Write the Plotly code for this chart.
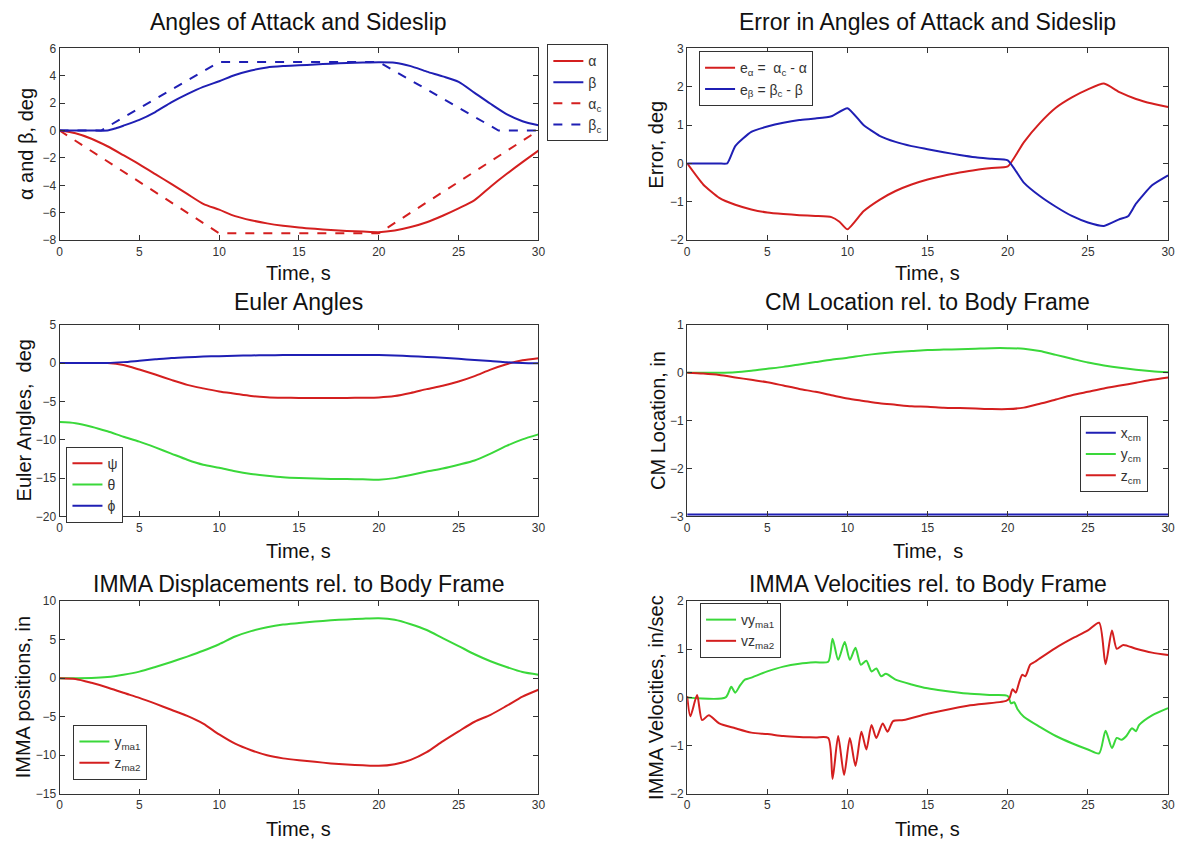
import plotly.graph_objects as go

# ---------------- data ----------------
t_int = list(range(0, 31))

# Panel 1: Angles of attack and sideslip
alpha_t = t_int
alpha = [0, -0.2, -0.6, -1.15, -1.8, -2.47, -3.18, -3.9, -4.63, -5.35, -5.78, -6.25, -6.55,
         -6.78, -6.95, -7.08, -7.18, -7.26, -7.33, -7.38, -7.42, -7.3, -7.05, -6.7, -6.22,
         -5.68, -5.08, -4.1, -3.18, -2.31, -1.47]
beta_t = [0, 1, 2, 3, 3.5, 4, 5, 6, 7, 8, 9, 10, 11, 12, 13, 14, 15, 16, 17, 18, 19, 20, 21,
          22, 23, 24, 25, 26, 27, 28, 29, 30]
beta = [0, 0, 0, 0, 0.15, 0.35, 0.78, 1.35, 2.05, 2.65, 3.18, 3.6, 4.05, 4.38, 4.6, 4.7, 4.76,
        4.82, 4.88, 4.93, 4.96, 4.98, 4.95, 4.7, 4.3, 3.95, 3.55, 2.75, 1.95, 1.2, 0.68, 0.38]
alpha_c_t = [0, 10, 20, 30]
alpha_c = [0, -7.5, -7.5, 0]
beta_c_t = [0, 2.6, 10, 20, 27.5, 30]
beta_c = [0, 0, 5, 5, 0, 0]

# Panel 2: errors
ea_t = [0, 1, 2, 3, 4, 5, 6, 7, 8, 9, 9.5, 10, 11, 12, 13, 14, 15, 16, 17, 18, 19, 20, 21, 22,
        23, 24, 25, 26, 27, 28, 29, 30]
e_alpha = [0, -0.55, -0.9, -1.08, -1.2, -1.28, -1.32, -1.35, -1.37, -1.4, -1.52, -1.72, -1.25,
           -0.95, -0.72, -0.55, -0.42, -0.32, -0.24, -0.17, -0.12, -0.08, 0.55, 1.05, 1.45,
           1.72, 1.93, 2.08, 1.85, 1.68, 1.56, 1.47]
eb_t = [0, 1, 2, 2.5, 3, 4, 5, 6, 7, 8, 9, 10, 11, 12, 13, 14, 15, 16, 17, 18, 19, 20, 21, 22,
        23, 24, 25, 26, 27, 27.5, 28, 29, 30]
e_beta = [0, 0, 0, 0, 0.45, 0.82, 0.96, 1.06, 1.13, 1.17, 1.23, 1.44, 1.0, 0.72, 0.56, 0.45,
          0.37, 0.29, 0.22, 0.16, 0.12, 0.08, -0.5, -0.85, -1.13, -1.37, -1.54, -1.63, -1.45,
          -1.38, -1.05, -0.57, -0.31]

# Panel 3: Euler angles
psi = [0, 0, 0, 0, -0.25, -0.85, -1.5, -2.2, -2.85, -3.3, -3.7, -4.0, -4.3, -4.45, -4.52,
       -4.55, -4.57, -4.56, -4.54, -4.52, -4.48, -4.3, -3.9, -3.4, -2.95, -2.4, -1.7, -0.85,
       -0.15, 0.35, 0.62]
theta = [-7.7, -7.85, -8.3, -8.9, -9.6, -10.25, -11.0, -11.8, -12.6, -13.25, -13.65, -14.1,
         -14.45, -14.7, -14.9, -15.0, -15.05, -15.1, -15.12, -15.15, -15.2, -15.0, -14.6,
         -14.15, -13.75, -13.25, -12.7, -11.8, -10.8, -9.95, -9.3]
phi = [0, 0, 0, 0, 0.12, 0.3, 0.48, 0.65, 0.76, 0.84, 0.9, 0.95, 0.99, 1.02, 1.04, 1.05, 1.06,
       1.06, 1.06, 1.05, 1.04, 0.98, 0.9, 0.8, 0.68, 0.55, 0.4, 0.26, 0.1, 0.0, -0.04]

# Panel 4: CM location
x_cm_t = [0, 30]
x_cm = [-2.96, -2.96]
y_cm = [0, 0, 0, 0.01, 0.04, 0.08, 0.12, 0.17, 0.22, 0.27, 0.31, 0.36, 0.4, 0.43, 0.45, 0.47,
        0.48, 0.49, 0.5, 0.51, 0.51, 0.5, 0.45, 0.37, 0.29, 0.21, 0.15, 0.1, 0.06, 0.03, 0.01]
z_cm = [0, -0.02, -0.05, -0.1, -0.15, -0.2, -0.27, -0.34, -0.4, -0.47, -0.54, -0.59, -0.64,
        -0.67, -0.7, -0.71, -0.73, -0.74, -0.75, -0.76, -0.76, -0.73, -0.65, -0.56, -0.47,
        -0.4, -0.33, -0.27, -0.21, -0.15, -0.1]

# Panel 5: IMMA displacements
y_ma1 = [0, 0, 0.02, 0.15, 0.45, 0.85, 1.45, 2.1, 2.8, 3.55, 4.4, 5.4, 6.1, 6.6, 6.95, 7.15,
         7.35, 7.5, 7.62, 7.72, 7.78, 7.58, 7.0, 6.25, 5.2, 4.17, 3.1, 2.2, 1.45, 0.8, 0.45]
z_ma2 = [0, -0.1, -0.6, -1.2, -1.9, -2.56, -3.3, -4.1, -4.9, -5.9, -7.3, -8.5, -9.35, -10.0,
         -10.4, -10.65, -10.85, -11.05, -11.2, -11.3, -11.37, -11.15, -10.6, -9.6, -8.2, -6.9,
         -5.65, -4.75, -3.6, -2.4, -1.5]

# Panel 6: IMMA velocities
vy_t = [0, 2.4, 2.75, 3.0, 3.3, 3.6, 3.9, 5, 6, 7, 8, 8.8, 9.07, 9.42, 9.83, 10.15, 10.5,
        10.83, 11.18, 11.5, 11.8, 12.1, 12.4, 13, 14, 15, 16, 17.5, 19, 20, 20.2, 20.4, 20.6,
        21, 22, 23, 24, 25, 25.7, 26.1, 26.5, 26.8, 27.1, 27.4, 27.75, 28.0, 28.2, 29, 30]
vy_ma1 = [0, 0, 0.22, 0.1, 0.25, 0.37, 0.4, 0.54, 0.64, 0.7, 0.73, 0.74, 1.22, 0.78, 1.15,
          0.78, 1.03, 0.68, 0.76, 0.54, 0.6, 0.44, 0.49, 0.37, 0.27, 0.19, 0.14, 0.08, 0.05,
          0.03, -0.12, -0.1, -0.24, -0.4, -0.61, -0.8, -0.95, -1.08, -1.16, -0.69, -1.05,
          -0.84, -0.88, -0.8, -0.64, -0.7, -0.57, -0.37, -0.22]
vz_t = [0, 0.2, 0.62, 0.93, 1.35, 2, 3, 4, 5, 6, 7, 8, 8.8, 9.07, 9.42, 9.79, 10.15, 10.5,
        10.87, 11.18, 11.5, 11.8, 12.2, 12.5, 12.85, 13.5, 15, 17.5, 19.9, 20.1, 20.3, 20.5,
        20.7, 20.9, 21.1, 21.4, 21.7, 22, 23, 24, 25, 25.7, 26.1, 26.5, 26.8, 27.2, 28, 29, 30]
vz_ma2 = [0.03, -0.39, 0.05, -0.47, -0.37, -0.54, -0.64, -0.73, -0.76, -0.8, -0.82, -0.83,
          -0.84, -1.69, -0.8, -1.61, -0.84, -1.42, -0.71, -1.08, -0.57, -0.84, -0.54, -0.71,
          -0.49, -0.47, -0.34, -0.17, -0.07, -0.02, 0.17, 0.1, 0.3, 0.47, 0.44, 0.68, 0.74,
          0.81, 1.03, 1.22, 1.39, 1.55, 0.69, 1.39, 1.01, 1.09, 1.01, 0.93, 0.88]

# ---------------- style ----------------
RED = "#d41f1f"
BLUE = "#1f1fb4"
GREEN = "#3ad83a"
FONT = "Liberation Sans, Arial, sans-serif"
W, H = 1182, 851
LW = 2

# pixel layout of the six panels (left, right, top, bottom)
cols = [(57, 540), (690, 1175)]
rows = [(42, 237), (323, 518), (604, 800)]

fig = go.Figure()


def add(x, y, name, color, ax, legend, dash="solid", shape="linear", smooth=0.7):
    fig.add_trace(go.Scatter(
        x=x, y=y, name=name, mode="lines",
        line=dict(color=color, width=LW, dash=dash, shape=shape, smoothing=smooth),
        xaxis="x" + ("" if ax == 1 else str(ax)),
        yaxis="y" + ("" if ax == 1 else str(ax)),
        legend=legend, hoverinfo="skip"))


add(alpha_t, alpha, "α", RED, 1, "legend", shape="spline")
add(beta_t, beta, "β", BLUE, 1, "legend", shape="spline")
add(alpha_c_t, alpha_c, "α<sub>c</sub>", RED, 1, "legend", dash="dash")
add(beta_c_t, beta_c, "β<sub>c</sub>", BLUE, 1, "legend", dash="dash")

add(ea_t, e_alpha, "e<sub>α</sub> =  α<sub>c</sub> - α", RED, 2, "legend2",
    shape="spline", smooth=0.5)
add(eb_t, e_beta, "e<sub>β</sub> = β<sub>c</sub> - β", BLUE, 2, "legend2",
    shape="spline", smooth=0.5)

add(t_int, psi, "ψ", RED, 3, "legend3", shape="spline")
add(t_int, theta, "θ", GREEN, 3, "legend3", shape="spline")
add(t_int, phi, "ϕ", BLUE, 3, "legend3", shape="spline")

add(x_cm_t, x_cm, "x<sub>cm</sub>", BLUE, 4, "legend4")
add(t_int, y_cm, "y<sub>cm</sub>", GREEN, 4, "legend4", shape="spline")
add(t_int, z_cm, "z<sub>cm</sub>", RED, 4, "legend4", shape="spline")

add(t_int, y_ma1, "y<sub>ma1</sub>", GREEN, 5, "legend5", shape="spline")
add(t_int, z_ma2, "z<sub>ma2</sub>", RED, 5, "legend5", shape="spline")

add(vy_t, vy_ma1, "vy<sub>ma1</sub>", GREEN, 6, "legend6", shape="spline")
add(vz_t, vz_ma2, "vz<sub>ma2</sub>", RED, 6, "legend6", shape="spline")

yranges = [(-8, 6, 2), (-2, 3, 1), (-20, 5, 5), (-3, 1, 1), (-15, 10, 5), (-2, 2, 1)]
titles = ["Angles of Attack and Sideslip", "Error in Angles of Attack and Sideslip",
          "Euler Angles", "CM Location rel. to Body Frame",
          "IMMA Displacements rel. to Body Frame", "IMMA Velocities rel. to Body Frame"]
xtitles = ["Time, s", "Time, s", "Time, s", "Time,  s", "Time, s", "Time, s"]
ytitles = ["α and β, deg", "Error, deg", "Euler Angles,  deg", "CM Location, in",
           "IMMA positions, in", "IMMA Velocities, in/sec"]
ytitle_x = [23, 659, 21, 660, 21, 659]
title_y = [15, 300, 587]
xtitle_y = [270, 553, 836]

axis_common = dict(showline=True, linecolor="#333", linewidth=1, mirror="ticks",
                   ticks="inside", ticklen=5, tickcolor="#333", showgrid=False,
                   zeroline=False, tickfont=dict(family=FONT, size=12, color="#333"),
                   fixedrange=True)

layout = dict(width=W, height=H, margin=dict(l=0, r=0, t=0, b=0),
              paper_bgcolor="white", plot_bgcolor="white", showlegend=True,
              font=dict(family=FONT, color="#222"))
annotations = []
for i in range(6):
    r, c = divmod(i, 2)
    (xl, xr), (yt, yb) = cols[c], rows[r]
    suffix = "" if i == 0 else str(i + 1)
    lo, hi, dt = yranges[i]
    layout["xaxis" + suffix] = dict(axis_common, domain=[xl / W, xr / W], range=[0, 30],
                                    dtick=5, tick0=0, anchor="y" + suffix)
    layout["yaxis" + suffix] = dict(axis_common, domain=[1 - yb / H, 1 - yt / H],
                                    range=[lo, hi], dtick=dt, tick0=lo,
                                    anchor="x" + suffix)
    xc = (xl + xr) / 2
    annotations.append(dict(text=titles[i], x=xc / W, y=1 - title_y[r] / H, xref="paper",
                            yref="paper", showarrow=False, xanchor="center",
                            yanchor="middle", font=dict(family=FONT, size=23, color="#111")))
    annotations.append(dict(text=xtitles[i], x=xc / W, y=1 - xtitle_y[r] / H, xref="paper",
                            yref="paper", showarrow=False, xanchor="center",
                            yanchor="middle", font=dict(family=FONT, size=20, color="#111")))
    annotations.append(dict(text=ytitles[i], x=ytitle_x[i] / W, y=1 - (yt + yb) / 2 / H,
                            xref="paper", yref="paper", showarrow=False, textangle=-90,
                            xanchor="center", yanchor="middle",
                            font=dict(family=FONT, size=20, color="#111")))
layout["annotations"] = annotations

leg_common = dict(bgcolor="white", bordercolor="#333", borderwidth=1,
                  font=dict(family=FONT, size=14, color="#333"), xref="paper",
                  yref="paper", xanchor="left", yanchor="top", tracegroupgap=0,
                  itemclick=False, itemdoubleclick=False)
legpos = [(549, 38), (702, 45), (64, 447), (1086, 416), (71, 730), (703, 606)]
for i, (lx, ly) in enumerate(legpos):
    key = "legend" if i == 0 else "legend" + str(i + 1)
    layout[key] = dict(leg_common, x=lx / W, y=1 - ly / H)

fig.update_layout(**layout)
fig.write_html("out.html")
